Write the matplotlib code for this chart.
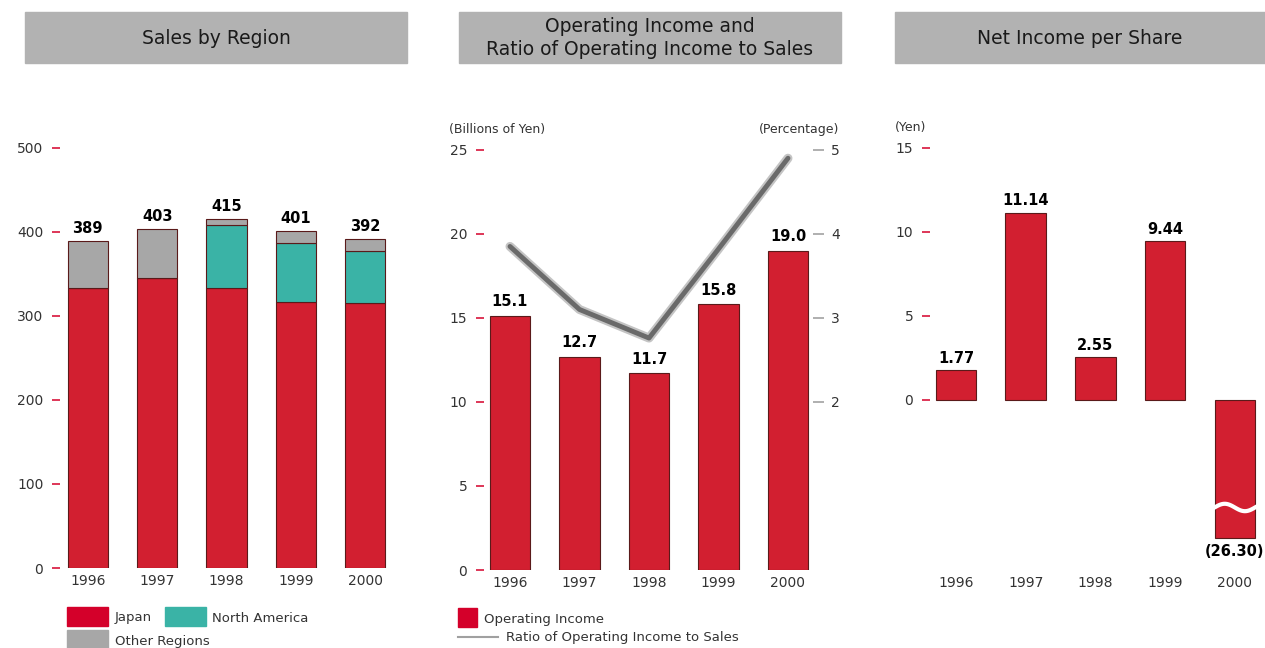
import numpy as np
import matplotlib
matplotlib.use('Agg')
import matplotlib.pyplot as plt
import matplotlib.patheffects as pe
from matplotlib.patches import Rectangle
from matplotlib.lines import Line2D

plt.rcParams['font.family'] = ['DejaVu Sans']

# Data
years = ['1996', '1997', '1998', '1999', '2000']
sales_japan = [333, 345, 333, 317, 315]
sales_north_america = [0, 0, 75, 70, 62]
sales_other = [56, 58, 7, 14, 15]
sales_totals = [389, 403, 415, 401, 392]

op_income = [15.1, 12.7, 11.7, 15.8, 19.0]
op_ratio = [3.85, 3.10, 2.76, 3.82, 4.90]

eps = [1.77, 11.14, 2.55, 9.44, -26.30]
eps_labels = ['1.77', '11.14', '2.55', '9.44', '(26.30)']

RED = '#d21f30'
LEGEND_RED = '#d4002a'
TEAL = '#3ab3a6'
GRAY = '#a7a7a7'
EDGE = '#5a1a1a'
TXT = '#333333'
W, H = 1265, 648

fig = plt.figure(figsize=(W / 100, H / 100), dpi=100)


def px_axes(x0, y0, x1, y1):
    # pixel box -> axes
    return fig.add_axes([x0 / W, 1 - y1 / H, (x1 - x0) / W, (y1 - y0) / H])


def header(x0, x1, text):
    fig.patches.append(Rectangle((x0 / W, 1 - 63 / H), (x1 - x0) / W, 51 / H,
                                 transform=fig.transFigure, color='#b2b2b2', zorder=0))
    fig.text((x0 + x1) / 2 / W, 1 - 38 / H, text, ha='center', va='center',
             fontsize=13.5, color='#1a1a1a', linespacing=1.25)


def style_axes(ax, tick_color=LEGEND_RED):
    for s in ax.spines.values():
        s.set_visible(False)
    ax.tick_params(axis='y', direction='out', length=6, width=1.1, color=tick_color,
                   labelsize=10, labelcolor=TXT, pad=6)
    ax.tick_params(axis='x', length=0, labelsize=10, labelcolor=TXT, pad=4)
    ax.set_xticks(range(len(years)))
    ax.set_xticklabels(years)


x = np.arange(len(years))
bw = 0.58

# Panel 1: Sales by Region
header(25, 407, 'Sales by Region')
ax1 = px_axes(60, 131, 400, 568)
style_axes(ax1)
ax1.bar(x, sales_japan, bw, color=RED, edgecolor=EDGE, linewidth=0.8)
ax1.bar(x, sales_north_america, bw, bottom=sales_japan, color=TEAL, edgecolor=EDGE,
        linewidth=0.8)
bottoms = np.array(sales_japan) + np.array(sales_north_america)
ax1.bar(x, sales_other, bw, bottom=bottoms, color=GRAY, edgecolor=EDGE, linewidth=0.8)
for xi, t in zip(x, sales_totals):
    ax1.text(xi, t + 6, str(t), ha='center', va='bottom', fontsize=10.5,
             fontweight='bold', color='black')
ax1.set_xlim(-0.40, 4.5)
ax1.set_ylim(0, 520)
ax1.set_yticks([0, 100, 200, 300, 400, 500])

# legend panel 1
def leg_box(x0, y0, x1, y1, color):
    fig.patches.append(Rectangle((x0 / W, 1 - y1 / H), (x1 - x0) / W, (y1 - y0) / H,
                                 transform=fig.transFigure, color=color))

leg_box(67, 607, 108, 626, LEGEND_RED)
fig.text(115 / W, 1 - 618 / H, 'Japan', va='center', fontsize=9.5, color=TXT)
leg_box(165, 607, 206, 626, TEAL)
fig.text(212 / W, 1 - 618 / H, 'North America', va='center', fontsize=9.5, color=TXT)
leg_box(67, 630, 108, 649, GRAY)
fig.text(115 / W, 1 - 641 / H, 'Other Regions', va='center', fontsize=9.5, color=TXT)

# Panel 2: Operating income and ratio
header(459, 841, 'Operating Income and\nRatio of Operating Income to Sales')
ax2 = px_axes(484, 133, 813, 570)
style_axes(ax2)
ax2.bar(x, op_income, bw, color=RED, edgecolor=EDGE, linewidth=0.8)
for xi, v in zip(x, op_income):
    ax2.text(xi, v + 0.4, f'{v:.1f}', ha='center', va='bottom', fontsize=10.5,
             fontweight='bold', color='black')
ax2.set_xlim(-0.374, 4.36)
ax2.set_ylim(0, 26)
ax2.set_yticks([0, 5, 10, 15, 20, 25])

ax2r = ax2.twinx()
for s in ax2r.spines.values():
    s.set_visible(False)
ax2r.set_ylim(0, 5.2)
ax2r.set_yticks([2, 3, 4, 5])
ax2r.tick_params(axis='y', direction='out', length=8, width=1.1, color='#9a9a9a',
                 labelsize=10, labelcolor=TXT, pad=5)
ax2r.plot(x, op_ratio, color='#6a6a6a', linewidth=3.5, solid_capstyle='round',
          solid_joinstyle='round',
          path_effects=[pe.Stroke(linewidth=6.5, foreground='#c4c4c4'), pe.Normal()],
          zorder=5)
fig.text(449 / W, 1 - 130 / H, '(Billions of Yen)', va='center', fontsize=9, color=TXT)
fig.text(839 / W, 1 - 130 / H, '(Percentage)', va='center', ha='right', fontsize=9,
         color=TXT)

leg_box(458, 608, 477, 627, LEGEND_RED)
fig.text(484 / W, 1 - 619 / H, 'Operating Income', va='center', fontsize=9.5, color=TXT)
fig.lines.append(Line2D([458 / W, 498 / W], [1 - 637 / H, 1 - 637 / H],
                        transform=fig.transFigure, color='#a0a0a0', linewidth=1.5))
fig.text(506 / W, 1 - 638 / H, 'Ratio of Operating Income to Sales', va='center',
         fontsize=9.5, color=TXT)

# Panel 3: Net income per share
header(895, 1265, 'Net Income per Share')
ax3 = px_axes(930, 131, 1262, 570)
style_axes(ax3)
clip_low = -8.2
eps_drawn = [max(v, clip_low) for v in eps]
ax3.bar(x, eps_drawn, bw, color=RED, edgecolor=EDGE, linewidth=0.8)
for xi, v, lab in zip(x, eps_drawn, eps_labels):
    if v >= 0:
        ax3.text(xi, v + 0.25, lab, ha='center', va='bottom', fontsize=10.5,
                 fontweight='bold', color='black')
    else:
        ax3.text(xi, v - 0.35, lab, ha='center', va='top', fontsize=10.5,
                 fontweight='bold', color='black')
# break mark on the truncated bar
xb = 4
wx = np.linspace(xb - bw / 2 - 0.02, xb + bw / 2 + 0.02, 60)
wy = -6.4 + 0.22 * np.sin((wx - (xb - bw / 2)) / bw * 2 * np.pi)
ax3.plot(wx, wy, color='white', linewidth=3, zorder=6)
ax3.set_xlim(-0.372, 4.39)
ax3.set_ylim(-10.12, 16)
ax3.set_yticks([0, 5, 10, 15])
fig.text(895 / W, 1 - 127 / H, '(Yen)', va='center', fontsize=9, color=TXT)

fig.savefig('out.png', dpi=100)
